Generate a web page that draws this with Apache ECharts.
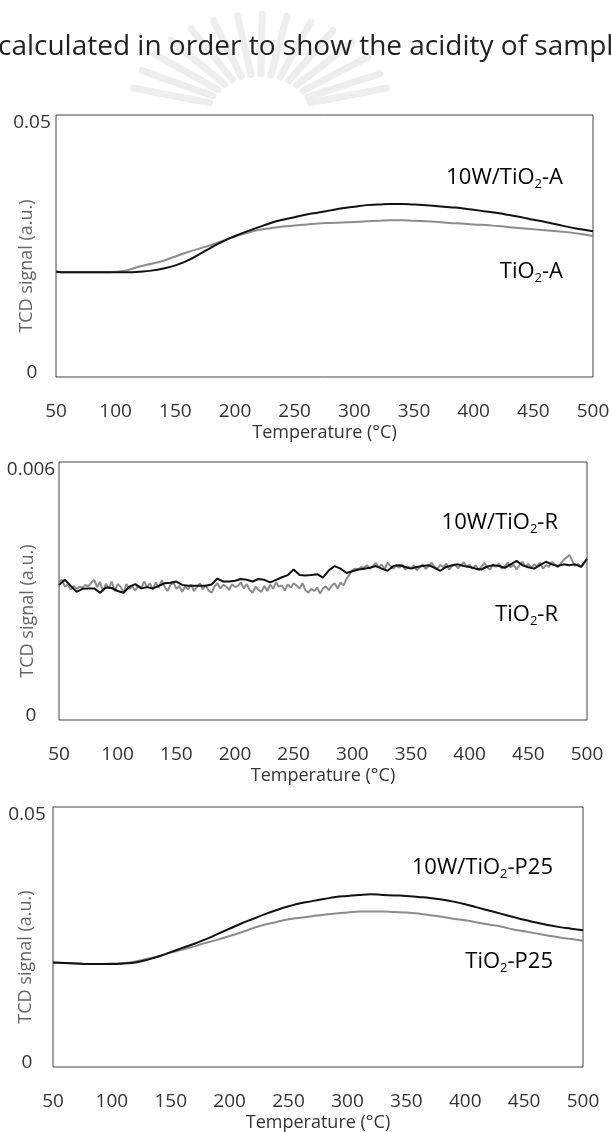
<!DOCTYPE html>
<html>
<head>
<meta charset="utf-8">
<title>TCD profiles</title>
<script src="https://cdn.jsdelivr.net/npm/echarts@6/dist/echarts.min.js"></script>
<style>
  html, body { margin: 0; padding: 0; background: #fff; }
  #chart { width: 611px; height: 1132px; }
</style>
</head>
<body>
<div id="chart"></div>
<script>
// temperature grids (°C)
const temps10 = [50, 60, 70, 80, 90, 100, 110, 120, 130, 140,
  150, 160, 170, 180, 190, 200, 210, 220, 230, 240,
  250, 260, 270, 280, 290, 300, 310, 320, 330, 340,
  350, 360, 370, 380, 390, 400, 410, 420, 430, 440,
  450, 460, 470, 480, 490, 500];
const temps5 = [50, 55, 60, 65, 70, 75, 80, 85, 90, 95,
  100, 105, 110, 115, 120, 125, 130, 135, 140, 145,
  150, 155, 160, 165, 170, 175, 180, 185, 190, 195,
  200, 205, 210, 215, 220, 225, 230, 235, 240, 245,
  250, 255, 260, 265, 270, 275, 280, 285, 290, 295,
  300, 305, 310, 315, 320, 325, 330, 335, 340, 345,
  350, 355, 360, 365, 370, 375, 380, 385, 390, 395,
  400, 405, 410, 415, 420, 425, 430, 435, 440, 445,
  450, 455, 460, 465, 470, 475, 480, 485, 490, 495,
  500];
const tempsFine = [50, 52.5, 55, 57.5, 60, 62.5, 65, 67.5, 70, 72.5, 75, 77.5, 80, 82.5, 85, 87.5, 90, 92.5, 95, 97.5, 100,
  102.5, 105, 107.5, 110, 112.5, 115, 117.5, 120, 122.5, 125, 127.5, 130, 132.5, 135, 137.5, 140, 142.5, 145, 147.5, 150,
  152.5, 155, 157.5, 160, 162.5, 165, 167.5, 170, 172.5, 175, 177.5, 180, 182.5, 185, 187.5, 190, 192.5, 195, 197.5, 200,
  202.5, 205, 207.5, 210, 212.5, 215, 217.5, 220, 222.5, 225, 227.5, 230, 232.5, 235, 237.5, 240, 242.5, 245, 247.5, 250,
  252.5, 255, 257.5, 260, 262.5, 265, 267.5, 270, 272.5, 275, 277.5, 280, 282.5, 285, 287.5, 290, 292.5, 295, 297.5, 300,
  302.5, 305, 307.5, 310, 312.5, 315, 317.5, 320, 322.5, 325, 327.5, 330, 332.5, 335, 337.5, 340, 342.5, 345, 347.5, 350,
  352.5, 355, 357.5, 360, 362.5, 365, 367.5, 370, 372.5, 375, 377.5, 380, 382.5, 385, 387.5, 390, 392.5, 395, 397.5, 400,
  402.5, 405, 407.5, 410, 412.5, 415, 417.5, 420, 422.5, 425, 427.5, 430, 432.5, 435, 437.5, 440, 442.5, 445, 447.5, 450,
  452.5, 455, 457.5, 460, 462.5, 465, 467.5, 470, 472.5, 475, 477.5, 480, 482.5, 485, 487.5, 490, 492.5, 495, 497.5, 500];

// anatase
const w10A = [0.0201, 0.0200, 0.0200, 0.0200, 0.0200, 0.0200, 0.0200, 0.0201, 0.0203, 0.0207,
  0.0213, 0.0222, 0.0234, 0.0247, 0.0259, 0.0269, 0.0278, 0.0286, 0.0294, 0.0300,
  0.0305, 0.0310, 0.0314, 0.0318, 0.0322, 0.0325, 0.0328, 0.0329, 0.0330, 0.0330,
  0.0329, 0.0328, 0.0326, 0.0324, 0.0322, 0.0319, 0.0316, 0.0313, 0.0309, 0.0305,
  0.0300, 0.0296, 0.0291, 0.0286, 0.0282, 0.0278];
const tio2A = [0.0201, 0.0200, 0.0200, 0.0200, 0.0200, 0.0201, 0.0204, 0.0211, 0.0216, 0.0222,
  0.0230, 0.0238, 0.0245, 0.0252, 0.0260, 0.0268, 0.0275, 0.0281, 0.0284, 0.0287,
  0.0289, 0.0291, 0.0293, 0.0294, 0.0295, 0.0296, 0.0297, 0.0298, 0.0299, 0.0299,
  0.0298, 0.0297, 0.0296, 0.0294, 0.0293, 0.0291, 0.0290, 0.0288, 0.0286, 0.0284,
  0.0282, 0.0280, 0.0278, 0.0276, 0.0273, 0.0269];

// rutile (on temps5 / tempsFine)
const w10R = [0.00314, 0.00326, 0.00312, 0.00298, 0.00305, 0.00306, 0.00306, 0.00296, 0.00308, 0.00307,
  0.00300, 0.00296, 0.00310, 0.00316, 0.00306, 0.00309, 0.00306, 0.00312, 0.00318, 0.00319,
  0.00322, 0.00314, 0.00312, 0.00312, 0.00312, 0.00312, 0.00315, 0.00329, 0.00322, 0.00322,
  0.00324, 0.00328, 0.00326, 0.00322, 0.00328, 0.00326, 0.00320, 0.00326, 0.00332, 0.00337,
  0.00350, 0.00337, 0.00336, 0.00337, 0.00339, 0.00331, 0.00348, 0.00358, 0.00352, 0.00342,
  0.00346, 0.00350, 0.00352, 0.00354, 0.00358, 0.00352, 0.00347, 0.00358, 0.00360, 0.00356,
  0.00352, 0.00356, 0.00358, 0.00360, 0.00354, 0.00347, 0.00356, 0.00360, 0.00362, 0.00358,
  0.00356, 0.00352, 0.00350, 0.00357, 0.00360, 0.00358, 0.00354, 0.00362, 0.00370, 0.00360,
  0.00355, 0.00352, 0.00360, 0.00368, 0.00362, 0.00358, 0.00362, 0.00360, 0.00362, 0.00356,
  0.00375];
const tio2R = [0.00322, 0.00326, 0.00310, 0.00315, 0.00303, 0.00312, 0.00305, 0.00310, 0.00308, 0.00314, 0.00311, 0.00319, 0.00326, 0.00309, 0.00321, 0.00300, 0.00317, 0.00306, 0.00322, 0.00300, 0.00316,
  0.00310, 0.00296, 0.00316, 0.00305, 0.00310, 0.00301, 0.00313, 0.00306, 0.00322, 0.00309, 0.00318, 0.00303, 0.00320, 0.00307, 0.00325, 0.00310, 0.00300, 0.00314, 0.00320, 0.00305,
  0.00312, 0.00298, 0.00310, 0.00304, 0.00315, 0.00300, 0.00309, 0.00318, 0.00304, 0.00313, 0.00301, 0.00296, 0.00310, 0.00318, 0.00306, 0.00314, 0.00310, 0.00303, 0.00316, 0.00309,
  0.00312, 0.00320, 0.00306, 0.00316, 0.00303, 0.00296, 0.00310, 0.00303, 0.00298, 0.00312, 0.00300, 0.00315, 0.00305, 0.00320, 0.00310, 0.00313, 0.00301, 0.00315, 0.00308, 0.00318,
  0.00312, 0.00306, 0.00318, 0.00302, 0.00296, 0.00305, 0.00300, 0.00308, 0.00294, 0.00306, 0.00311, 0.00302, 0.00313, 0.00318, 0.00306, 0.00320, 0.00313, 0.00328, 0.00338, 0.00348,
  0.00352, 0.00350, 0.00356, 0.00354, 0.00360, 0.00352, 0.00358, 0.00365, 0.00355, 0.00362, 0.00350, 0.00366, 0.00358, 0.00352, 0.00361, 0.00354, 0.00362, 0.00350, 0.00357, 0.00353,
  0.00360, 0.00348, 0.00356, 0.00362, 0.00351, 0.00358, 0.00366, 0.00356, 0.00352, 0.00361, 0.00355, 0.00364, 0.00350, 0.00358, 0.00362, 0.00353, 0.00360, 0.00367, 0.00356, 0.00361,
  0.00352, 0.00360, 0.00348, 0.00357, 0.00365, 0.00355, 0.00350, 0.00362, 0.00356, 0.00364, 0.00352, 0.00358, 0.00366, 0.00355, 0.00361, 0.00350, 0.00360, 0.00368, 0.00357, 0.00363,
  0.00354, 0.00362, 0.00357, 0.00366, 0.00352, 0.00360, 0.00356, 0.00368, 0.00362, 0.00355, 0.00364, 0.00372, 0.00378, 0.00384, 0.00370, 0.00358, 0.00363, 0.00356, 0.00365, 0.00372];

// P25
const w10P25 = [0.0201, 0.0200, 0.0199, 0.0198, 0.0198, 0.0198, 0.0199, 0.0201, 0.0206, 0.0213,
  0.0221, 0.0229, 0.0237, 0.0246, 0.0256, 0.0266, 0.0276, 0.0285, 0.0294, 0.0302,
  0.0309, 0.0315, 0.0319, 0.0323, 0.0327, 0.0329, 0.0331, 0.0332, 0.0331, 0.0330,
  0.0329, 0.0327, 0.0325, 0.0322, 0.0318, 0.0313, 0.0307, 0.0301, 0.0295, 0.0289,
  0.0283, 0.0278, 0.0273, 0.0269, 0.0266, 0.0263];
const tio2P25 = [0.0201, 0.0200, 0.0199, 0.0198, 0.0198, 0.0199, 0.0200, 0.0203, 0.0208, 0.0213,
  0.0220, 0.0226, 0.0232, 0.0239, 0.0245, 0.0252, 0.0259, 0.0267, 0.0274, 0.0279,
  0.0284, 0.0287, 0.0290, 0.0293, 0.0295, 0.0297, 0.0299, 0.0299, 0.0299, 0.0298,
  0.0297, 0.0295, 0.0292, 0.0289, 0.0285, 0.0282, 0.0278, 0.0274, 0.0270, 0.0265,
  0.0261, 0.0257, 0.0253, 0.0249, 0.0246, 0.0243];

const yMaxes = [0.05, 0.006, 0.05];
const yMaxLabels = ['0.05', '0.006', '0.05'];
const blackNames = ['10W/TiO|-A', '10W/TiO|-R', '10W/TiO|-P25'];
const grayNames = ['TiO|-A', 'TiO|-R', 'TiO|-P25'];

const FONT = 'Open Sans';
const BLACK = '#111';
const GRAY = '#8c8c8c';

const grids = [
  {left: 56, top: 115, width: 537, height: 262},
  {left: 59, top: 462, width: 528, height: 258},
  {left: 53, top: 807, width: 530, height: 260}
];
const yLabelMargin = [24, 28, 26];
const yNameGap = [20, 22, 18];
// right edge / vertical centre of the in-plot labels
const tagPos = [
  {x: 563, yb: 178, yg: 272},
  {x: 558, yb: 523, yg: 615},
  {x: 553, yb: 868, yg: 962}
];

function zip(xs, ys) {
  return xs.map((x, i) => [x, ys[i]]);
}

function subText(name) {
  const p = name.split('|');
  return '{n|' + p[0] + '}{s|2}{n|' + p[1] + '}';
}

function tagRich(color) {
  return {
    n: {fontFamily: FONT, fontSize: 22, lineHeight: 26, color: color},
    s: {fontFamily: FONT, fontSize: 13, lineHeight: 13, padding: [13, 0, 0, 0], color: color}
  };
}

const xAxes = grids.map((g, i) => ({
  type: 'value', gridIndex: i, min: 50, max: 500, interval: 50,
  name: 'Temperature (°C)', nameLocation: 'middle', nameGap: 47, nameMoveOverlap: false,
  nameTextStyle: {fontFamily: FONT, fontSize: 18, color: '#333'},
  axisLine: {show: false}, axisTick: {show: false}, splitLine: {show: false},
  axisLabel: {margin: 25, fontFamily: FONT, fontSize: 19, color: '#333'}
}));

const yAxes = grids.map((g, i) => ({
  type: 'value', gridIndex: i, min: 0, max: yMaxes[i], interval: yMaxes[i],
  name: 'TCD signal (a.u.)', nameLocation: 'middle', nameGap: yNameGap[i], nameMoveOverlap: false,
  nameTextStyle: {fontFamily: FONT, fontSize: 18, color: '#666', padding: [0, 40, 0, 0]},
  axisLine: {show: false}, axisTick: {show: false}, splitLine: {show: false},
  axisLabel: {
    align: 'center', margin: yLabelMargin[i],
    formatter: v => (v === 0 ? '{lo|0}' : '{hi|' + yMaxLabels[i] + '}'),
    rich: {
      lo: {fontFamily: FONT, fontSize: 19, color: '#333', padding: [0, 0, 8, 0]},
      hi: {fontFamily: FONT, fontSize: 19, color: '#333', padding: [16, 0, 0, 0]}
    }
  }
}));

const pairs = [
  {black: zip(temps10, w10A), gray: zip(temps10, tio2A), smooth: true},
  {black: zip(temps5, w10R), gray: zip(tempsFine, tio2R), smooth: false},
  {black: zip(temps10, w10P25), gray: zip(temps10, tio2P25), smooth: true}
];

const series = [];
pairs.forEach((p, i) => {
  series.push({
    type: 'line', xAxisIndex: i, yAxisIndex: i, data: p.gray, smooth: p.smooth,
    showSymbol: false, lineStyle: {color: GRAY, width: 2}
  });
  series.push({
    type: 'line', xAxisIndex: i, yAxisIndex: i, data: p.black, smooth: p.smooth,
    showSymbol: false, lineStyle: {color: BLACK, width: 2}
  });
});

// faint emblem behind the top line of text (decoration only)
const rayAngles = [194, 205, 216, 227, 238, 249, 260, 271, 282, 293, 304, 315, 326, 337, 346];
const graphic = [];
rayAngles.forEach(a => {
  const r = a * Math.PI / 180;
  const c = Math.cos(r), s = Math.sin(r);
  graphic.push({
    type: 'line', silent: true, z: -10,
    shape: {x1: 260 + 52 * c, y1: 112 + 38 * s, x2: 260 + 130 * c, y2: 112 + 98 * s},
    style: {stroke: '#eeeeee', lineWidth: 7, lineCap: 'round'}
  });
});
graphic.push({
  type: 'text', left: -2, top: 33,
  style: {text: 'calculated in order to show the acidity of sampl', fontFamily: FONT, fontSize: 28, fill: '#222'}
});
tagPos.forEach((t, i) => {
  graphic.push({
    type: 'text', x: t.x, y: t.yb,
    style: {text: subText(blackNames[i]), rich: tagRich('#000'), align: 'right', verticalAlign: 'middle'}
  });
  graphic.push({
    type: 'text', x: t.x, y: t.yg,
    style: {text: subText(grayNames[i]), rich: tagRich(GRAY), align: 'right', verticalAlign: 'middle'}
  });
});

const myChart = echarts.init(document.getElementById('chart'));
myChart.setOption({
  animation: false,
  backgroundColor: '#fff',
  grid: grids.map(g => Object.assign({
    show: true, borderColor: '#444', borderWidth: 1, backgroundColor: 'transparent',
    outerBoundsMode: 'none', containLabel: false
  }, g)),
  xAxis: xAxes,
  yAxis: yAxes,
  series: series,
  graphic: graphic
});
</script>
</body>
</html>
